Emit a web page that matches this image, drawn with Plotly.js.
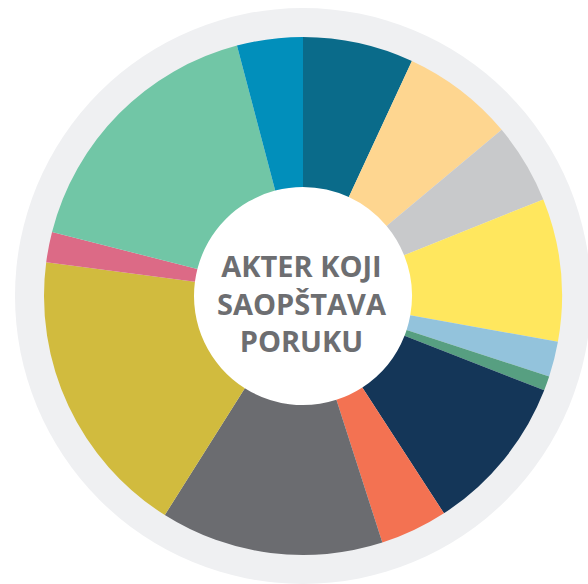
<!DOCTYPE html>
<html>
<head>
<meta charset="utf-8">
<script src="https://cdn.plot.ly/plotly-3.0.1.min.js"></script>
<style>html,body{margin:0;padding:0;background:#fff;}#chart{width:588px;height:584px;}</style>
</head>
<body>
<div id="chart"></div>
<script>
var categories = ["Kategorija 1","Kategorija 2","Kategorija 3","Kategorija 4","Kategorija 5","Kategorija 6","Kategorija 7","Kategorija 8","Kategorija 9","Kategorija 10","Kategorija 11","Kategorija 12","Kategorija 13"];
var shares = [6.9, 7.0, 5.0, 8.9, 2.2, 0.9, 9.9, 4.2, 13.9, 18.1, 1.9, 16.9, 4.1];
var sliceColors = ["#0a6b8a","#fed690","#c8c9cb","#ffe75e","#93c3dc","#579f81","#143658","#f37252","#6b6c70","#d1bb3e","#dc6a86","#71c6a6","#018fbb"];
var centerLines = ["AKTER KOJI","SAOPŠTAVA","PORUKU"];

var W = 588, H = 584, cx = 303, cy = 296, R = 259, ringR = 288, holeR = 109;

var trace = {
  type: "pie",
  labels: categories,
  values: shares,
  sort: false,
  direction: "clockwise",
  rotation: 0,
  hole: holeR / R,
  textinfo: "none",
  hoverinfo: "label+percent",
  marker: {colors: sliceColors, line: {width: 0}},
  domain: {x: [(cx - R) / W, (cx + R) / W], y: [(H - cy - R) / H, (H - cy + R) / H]},
  showlegend: false
};

var annotations = [{
  text: "<b>" + centerLines.join("<br>") + "</b>",
  xref: "paper", yref: "paper",
  x: (cx - 1) / W, y: (H - 303) / H,
  xanchor: "center", yanchor: "middle",
  align: "center",
  showarrow: false,
  font: {family: "Open Sans", size: 29, color: "#6d6e71"}
}];

function circ(r, col) {
  return {
    type: "circle", xref: "paper", yref: "paper", layer: "below",
    x0: (cx - r) / W, x1: (cx + r) / W,
    y0: (H - cy - r) / H, y1: (H - cy + r) / H,
    fillcolor: col, line: {width: 0}
  };
}

var layout = {
  width: W, height: H,
  margin: {l: 0, r: 0, t: 0, b: 0},
  paper_bgcolor: "#ffffff",
  plot_bgcolor: "#ffffff",
  showlegend: false,
  shapes: [circ(ringR, "#eff0f2"), circ(holeR + 2, "#ffffff")],
  annotations: annotations
};

Plotly.newPlot("chart", [trace], layout, {displayModeBar: false, staticPlot: true});
</script>
</body>
</html>
